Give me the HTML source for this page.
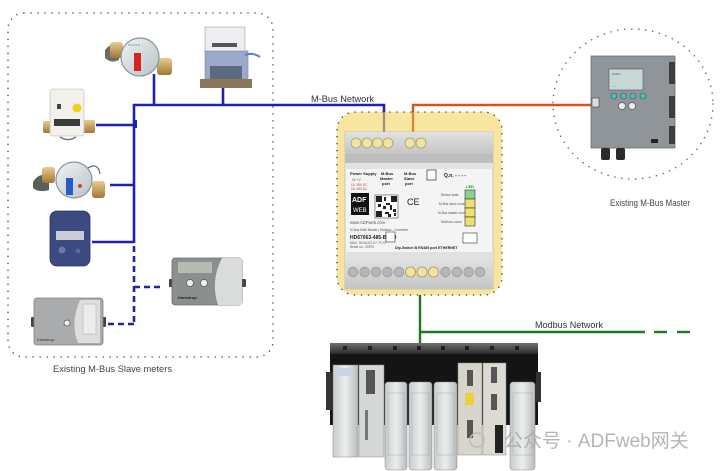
<!DOCTYPE html>
<html><head><meta charset="utf-8"><style>
html,body{margin:0;padding:0;background:#fff;}
svg{display:block;}
text{font-family:"Liberation Sans","Noto Sans CJK SC",sans-serif;}
</style></head><body>
<svg width="720" height="471" viewBox="0 0 720 471" xmlns="http://www.w3.org/2000/svg">
<defs>
<linearGradient id="dial" x1="0" y1="0" x2="1" y2="1"><stop offset="0" stop-color="#f0f3f4"/><stop offset="1" stop-color="#b8c2c6"/></linearGradient>
<linearGradient id="brass" x1="0" y1="0" x2="0" y2="1"><stop offset="0" stop-color="#e8cc90"/><stop offset="1" stop-color="#a07838"/></linearGradient>
<linearGradient id="gband" x1="0" y1="0" x2="0" y2="1"><stop offset="0" stop-color="#e2e2e2"/><stop offset="1" stop-color="#c4c4c4"/></linearGradient>
<linearGradient id="plcmod" x1="0" y1="0" x2="1" y2="0"><stop offset="0" stop-color="#c8ccce"/><stop offset="0.5" stop-color="#eceeee"/><stop offset="1" stop-color="#b8bcbe"/></linearGradient>
<linearGradient id="rail" x1="0" y1="0" x2="0" y2="1"><stop offset="0" stop-color="#707070"/><stop offset="1" stop-color="#2a2a2a"/></linearGradient>
</defs>

<!-- Left dotted box -->
<rect x="8" y="13" width="265" height="344" rx="16" fill="none" stroke="#555" stroke-width="1.6" stroke-dasharray="0 7" stroke-linecap="round"/>
<text x="53" y="372" font-size="9.5" fill="#444" textLength="119" lengthAdjust="spacingAndGlyphs">Existing M-Bus Slave meters</text>

<!-- Master dotted circle -->
<ellipse cx="633" cy="104" rx="80" ry="75" fill="none" stroke="#666" stroke-width="1.6" stroke-dasharray="0 7" stroke-linecap="round"/>
<text x="610" y="206" font-size="9.5" fill="#444" textLength="80" lengthAdjust="spacingAndGlyphs">Existing M-Bus Master</text>

<!-- M-Bus blue lines -->
<g stroke="#1f22b0" stroke-width="2.6" fill="none">
<polyline points="134,243 134,105 384,105 384,113"/>
<line x1="154" y1="74" x2="154" y2="105"/>
<line x1="223" y1="88" x2="223" y2="105"/>
<line x1="96" y1="125" x2="134" y2="125"/>
<line x1="110" y1="185" x2="134" y2="185"/>
<line x1="92" y1="242" x2="134" y2="242"/>
</g>
<rect x="133" y="120" width="4" height="8" fill="#1f22b0"/>
<g stroke="#1f22b0" stroke-width="2.6" fill="none" stroke-dasharray="6 4">
<line x1="134" y1="246" x2="134" y2="325"/>
<line x1="134" y1="287" x2="160" y2="287"/>
<line x1="134" y1="324" x2="104" y2="324"/>
</g>
<text x="311" y="102" font-size="9.5" fill="#333" textLength="63" lengthAdjust="spacingAndGlyphs">M-Bus Network</text>

<!-- Orange line -->
<polyline points="413,113 413,105 593,105" stroke="#d8521c" stroke-width="2.4" fill="none"/>

<!-- Green Modbus line -->
<g stroke="#1f7a1f" stroke-width="2.4" fill="none">
<line x1="420" y1="289" x2="420" y2="344"/>
<line x1="420" y1="332" x2="645" y2="332"/>
<line x1="654" y1="332" x2="667" y2="332"/>
<line x1="677" y1="332" x2="690" y2="332"/>
</g>
<text x="535" y="328" font-size="9.5" fill="#333" textLength="68" lengthAdjust="spacingAndGlyphs">Modbus Network</text>

<!-- Yellow box -->
<rect x="337" y="112" width="165" height="183" rx="18" fill="#f8e5a0" stroke="#5a4a20" stroke-width="1.6" stroke-dasharray="0 7" stroke-linecap="round"/>
<line x1="384" y1="112" x2="384" y2="138" stroke="#a08a78" stroke-width="2.2"/>
<line x1="413" y1="112" x2="413" y2="138" stroke="#d8803c" stroke-width="2.2"/>

<!-- Device -->
<rect x="345" y="132" width="148" height="157" fill="#f4f4f4" stroke="#bbb" stroke-width="0.8"/>
<rect x="345" y="132" width="148" height="22" fill="url(#gband)"/>
<rect x="345" y="154" width="148" height="9" fill="#bdbdbd"/>
<rect x="345" y="163" width="148" height="6" fill="#e2e2e2"/>
<rect x="345" y="252" width="148" height="6" fill="#e0e0e0"/>
<rect x="345" y="258" width="148" height="31" fill="url(#gband)"/>
<g fill="#eee5a4" stroke="#a8a070" stroke-width="0.8">
<circle cx="356" cy="143" r="5"/><circle cx="367" cy="143" r="5"/><circle cx="377.5" cy="143" r="5"/><circle cx="388" cy="143" r="5"/>
<circle cx="410" cy="143" r="5"/><circle cx="421" cy="143" r="5"/>
</g>
<g fill="#b6b6b6" stroke="#999" stroke-width="0.8">
<circle cx="353" cy="272" r="4.8"/><circle cx="364.5" cy="272" r="4.8"/><circle cx="376" cy="272" r="4.8"/><circle cx="387.5" cy="272" r="4.8"/><circle cx="399" cy="272" r="4.8"/>
<circle cx="445.5" cy="272" r="4.8"/><circle cx="457" cy="272" r="4.8"/><circle cx="468.5" cy="272" r="4.8"/><circle cx="480" cy="272" r="4.8"/>
</g>
<g fill="#eee3a0" stroke="#a89a58" stroke-width="0.8">
<circle cx="410.5" cy="272" r="5"/><circle cx="422" cy="272" r="5"/><circle cx="433.5" cy="272" r="5"/>
</g>
<g font-size="4" fill="#222" font-weight="bold">
<text x="350" y="175">Power Supply</text>
<text x="381" y="175">M-Bus</text><text x="380" y="180">Master</text><text x="382" y="185">port</text>
<text x="404" y="175">M-Bus</text><text x="404" y="180">Slave</text><text x="405" y="185">port</text>
<text x="444" y="177" font-size="5">Q.n. - - - -</text>
<text x="466" y="188" fill="#2a8a2a">LED</text>
<text x="350" y="239" font-size="5">HD67063-485-B2-30</text>
<text x="395" y="249" font-size="3.6">Dip-Switch B  RS485 port  ETHERNET</text>
</g>
<g font-size="3.2" fill="#555">
<text x="352" y="181">0V   +V</text>
<text x="351" y="186" fill="#b04040">15..35V DC</text>
<text x="351" y="190" fill="#b04040">18..28V AC</text>
<text x="350" y="224" font-size="4.2">www.ADFweb.com</text>
<text x="350" y="231">M-Bus Multi Master | Modbus - Converter</text>
<text x="350" y="244">MAC: 00-0A-E2-07-7F-37</text>
<text x="350" y="248">Serial no.: 20970</text>
<text x="441" y="196">Device state</text>
<text x="439" y="205">M-Bus slave comm</text>
<text x="438" y="214">M-Bus master comm</text>
<text x="441" y="223">Modbus comm</text>
</g>
<rect x="427" y="170" width="9" height="10" fill="#fff" stroke="#333" stroke-width="0.7"/>
<rect x="351" y="193" width="18" height="22" fill="#111"/>
<text x="352" y="202" font-size="7" fill="#fff" font-weight="bold">ADF</text>
<text x="353" y="212" font-size="6" fill="#fff">WEB</text>
<rect x="375" y="195" width="23" height="23" fill="#fff" stroke="#222" stroke-width="0.5"/>
<g fill="#222">
<rect x="376" y="196" width="6" height="6"/><rect x="391" y="196" width="6" height="6"/><rect x="376" y="211" width="6" height="6"/>
<rect x="384" y="197" width="2" height="4"/><rect x="386" y="203" width="4" height="2"/><rect x="383" y="206" width="3" height="3"/><rect x="390" y="205" width="2" height="5"/><rect x="393" y="209" width="3" height="3"/><rect x="385" y="212" width="4" height="2"/><rect x="388" y="214" width="3" height="3"/><rect x="378" y="204" width="3" height="3"/><rect x="394" y="213" width="2" height="3"/>
</g>
<text x="407" y="205" font-size="9" fill="#222">CE</text>
<g fill="#fff" stroke="#333" stroke-width="0.6">
<rect x="465" y="190" width="10" height="9" fill="#8dd08d"/>
<rect x="465" y="199" width="10" height="9" fill="#ece070"/>
<rect x="465" y="208" width="10" height="9" fill="#ece070"/>
<rect x="465" y="217" width="10" height="9" fill="#ece070"/>
<rect x="386" y="232" width="9" height="10"/>
<rect x="463" y="233" width="14" height="10"/>
</g>

<!-- Master device -->
<rect x="591" y="56" width="84" height="92" fill="#8f9598" stroke="#6a7073" stroke-width="0.8"/>
<rect x="669" y="62" width="6" height="22" fill="#3a3e40"/>
<rect x="669" y="96" width="6" height="22" fill="#3a3e40"/>
<rect x="669" y="126" width="6" height="18" fill="#3a3e40"/>
<rect x="609" y="69" width="34" height="21" fill="#c9d6d6" stroke="#556" stroke-width="0.6"/>
<g fill="#555" font-size="3"><text x="612" y="75">M-Bus</text><text x="613" y="87">---</text></g>
<g fill="#58b8b0" stroke="#2a6a66" stroke-width="0.6">
<circle cx="614" cy="96" r="3"/><circle cx="623.5" cy="96" r="3"/><circle cx="633" cy="96" r="3"/><circle cx="643" cy="96" r="3"/>
</g>
<g fill="#e8ecec" stroke="#555" stroke-width="0.7"><circle cx="622" cy="106" r="3.5"/><circle cx="632" cy="106" r="3.5"/></g>
<rect x="592" y="98" width="7" height="9" fill="#ddd" stroke="#444" stroke-width="0.6"/>
<rect x="651" y="139" width="7" height="4" fill="#222"/>
<rect x="601" y="148" width="9" height="12" rx="2" fill="#2a2a2a"/>
<rect x="616" y="148" width="9" height="12" rx="2" fill="#2a2a2a"/>

<!-- PLC -->
<rect x="330" y="343" width="208" height="82" fill="#141414"/>
<rect x="330" y="343" width="208" height="11" fill="url(#rail)"/>
<g fill="#222">
<rect x="343" y="346" width="4" height="4"/><rect x="368" y="346" width="4" height="4"/><rect x="393" y="346" width="4" height="4"/><rect x="417" y="346" width="4" height="4"/><rect x="441" y="346" width="4" height="4"/><rect x="465" y="346" width="4" height="4"/><rect x="490" y="346" width="4" height="4"/><rect x="515" y="346" width="4" height="4"/>
</g>
<rect x="326" y="372" width="6" height="38" fill="#333"/>
<rect x="536" y="372" width="5" height="30" fill="#333"/>
<rect x="333" y="365" width="25" height="92" fill="url(#plcmod)" stroke="#888" stroke-width="0.5"/>
<rect x="337" y="368" width="16" height="8" fill="#c8d4e8"/>
<rect x="359" y="365" width="25" height="92" fill="#d6d8d8" stroke="#888" stroke-width="0.5"/>
<rect x="366" y="370" width="9" height="24" fill="#555"/>
<rect x="365" y="410" width="3" height="30" fill="#777"/>
<g fill="url(#plcmod)" stroke="#888" stroke-width="0.5">
<rect x="385" y="382" width="22" height="88" rx="3"/>
<rect x="409" y="382" width="23" height="88" rx="3"/>
<rect x="434" y="382" width="23" height="88" rx="3"/>
<rect x="510" y="382" width="25" height="88" rx="3"/>
</g>
<g fill="none" stroke="#a8acae" stroke-width="0.5">
<rect x="388" y="393" width="16" height="62"/><rect x="412" y="393" width="17" height="62"/><rect x="437" y="393" width="17" height="62"/><rect x="513" y="393" width="19" height="62"/>
</g>
<rect x="458" y="363" width="24" height="92" fill="#d8d6cc" stroke="#888" stroke-width="0.5"/>
<rect x="483" y="363" width="23" height="92" fill="#dcdad2" stroke="#888" stroke-width="0.5"/>
<rect x="467" y="370" width="6" height="16" fill="#555"/>
<rect x="465" y="393" width="9" height="12" fill="#e8d040"/>
<rect x="467" y="420" width="6" height="18" fill="#555"/>
<rect x="491" y="367" width="6" height="16" fill="#555"/>
<rect x="491" y="394" width="6" height="16" fill="#555"/>
<rect x="495" y="425" width="8" height="28" fill="#222"/>

<!-- Meter: top red water meter -->
<path d="M105,50 q6,-8 14,-4 l0,14 q-8,4 -14,-2z" fill="#6a6e66"/>
<rect x="110" y="42" width="13" height="16" rx="3" fill="url(#brass)"/>
<rect x="157" y="58" width="15" height="17" rx="3" fill="url(#brass)"/>
<circle cx="140" cy="57" r="19" fill="url(#dial)" stroke="#8a9498" stroke-width="1.2"/>
<rect x="134" y="53" width="7" height="18" fill="#d42424"/>
<g fill="#666" font-size="3"><text x="128" y="46">0 0 0 0 0</text></g>

<!-- Meter: top right heat meter -->
<rect x="205" y="27" width="40" height="25" fill="#eceef2" stroke="#a8acb4" stroke-width="0.7"/>
<rect x="212" y="43" width="25" height="4" fill="#555"/>
<rect x="205" y="51" width="43" height="28" fill="#9aaac8" stroke="#7a88a8" stroke-width="0.6"/>
<path d="M245,55 q8,-3 15,2" stroke="#6a78c8" stroke-width="2" fill="none"/>
<rect x="210" y="66" width="32" height="13" fill="#5a6a80"/>
<rect x="200" y="79" width="52" height="9" fill="#8a7658"/>

<!-- Meter: left white heat meter -->
<rect x="43" y="121" width="10" height="12" rx="2" fill="url(#brass)"/>
<rect x="83" y="120" width="12" height="13" rx="2" fill="url(#brass)"/>
<rect x="50" y="89" width="34" height="47" rx="3" fill="#f2f1ec" stroke="#c6c6c0" stroke-width="0.8"/>
<rect x="57" y="104" width="4" height="5" fill="#444"/>
<circle cx="77" cy="108" r="4.5" fill="#f0d020"/>
<rect x="54" y="119" width="26" height="7" fill="#3a3a3a"/>
<path d="M60,137 q8,5 16,0" stroke="#777" stroke-width="1.5" fill="none"/>

<!-- Meter: blue water meter -->
<path d="M33,182 q6,-10 16,-6 l0,14 q-10,3 -16,-2z" fill="#5a6058"/>
<rect x="42" y="167" width="13" height="16" rx="3" fill="url(#brass)"/>
<rect x="92" y="181" width="13" height="17" rx="3" fill="url(#brass)"/>
<circle cx="74" cy="180" r="18" fill="url(#dial)" stroke="#8a9498" stroke-width="1.2"/>
<rect x="66" y="178" width="7" height="17" fill="#2a5ad0"/>
<circle cx="80" cy="186" r="2" fill="#d04040"/>
<path d="M88,168 q10,-6 12,6" stroke="#666" stroke-width="1.2" fill="none"/>

<!-- Meter: dark blue -->
<rect x="50" y="211" width="40" height="55" rx="7" fill="#3c4a82" stroke="#2a3460" stroke-width="0.8"/>
<rect x="56" y="231" width="28" height="9" fill="#c8ccd4"/>
<circle cx="62" cy="250" r="3.5" fill="#6a78a8"/>
<circle cx="78" cy="251" r="2.5" fill="#5a6898"/>

<!-- Meter: gray right -->
<rect x="169" y="279" width="5" height="8" rx="1" fill="#444"/>
<rect x="241" y="279" width="5" height="8" rx="1" fill="#444"/>
<rect x="172" y="258" width="70" height="47" rx="3" fill="#8c8f90" stroke="#6a6c6e" stroke-width="0.8"/>
<path d="M222,258 h18 a2,2 0 0 1 2,2 v43 a2,2 0 0 1 -2,2 h-22 q-8,-24 4,-47z" fill="#dadcdc"/>
<rect x="178" y="262" width="34" height="11" fill="#b6bcb0"/>
<circle cx="190" cy="283" r="3.5" fill="#eee" stroke="#555" stroke-width="0.7"/>
<circle cx="204" cy="283" r="3.5" fill="#eee" stroke="#555" stroke-width="0.7"/>
<text x="178" y="299" font-size="4" fill="#222" font-weight="bold">Kamstrup</text>

<!-- Meter: gray bottom-left -->
<rect x="31" y="317" width="5" height="10" rx="1" fill="#444"/>
<rect x="101" y="317" width="5" height="10" rx="1" fill="#444"/>
<rect x="34" y="298" width="69" height="47" rx="3" fill="#a9abac" stroke="#808284" stroke-width="0.8"/>
<path d="M80,300 h20 v43 h-22 q-8,-20 2,-43z" fill="#dedede"/>
<rect x="83" y="304" width="13" height="30" fill="#ececec" stroke="#aaa" stroke-width="0.5"/>
<circle cx="67" cy="323" r="3" fill="#eee" stroke="#555" stroke-width="0.7"/>
<text x="37" y="341" font-size="4" fill="#333">Kamstrup</text>

<!-- Watermark -->
<circle cx="477" cy="440" r="7" fill="none" stroke="#bbb" stroke-width="1.5"/>
<text x="504" y="447" font-size="19" fill="#a8a8a8" fill-opacity="0.85">公众号 · ADFweb网关</text>
</svg>
</body></html>
